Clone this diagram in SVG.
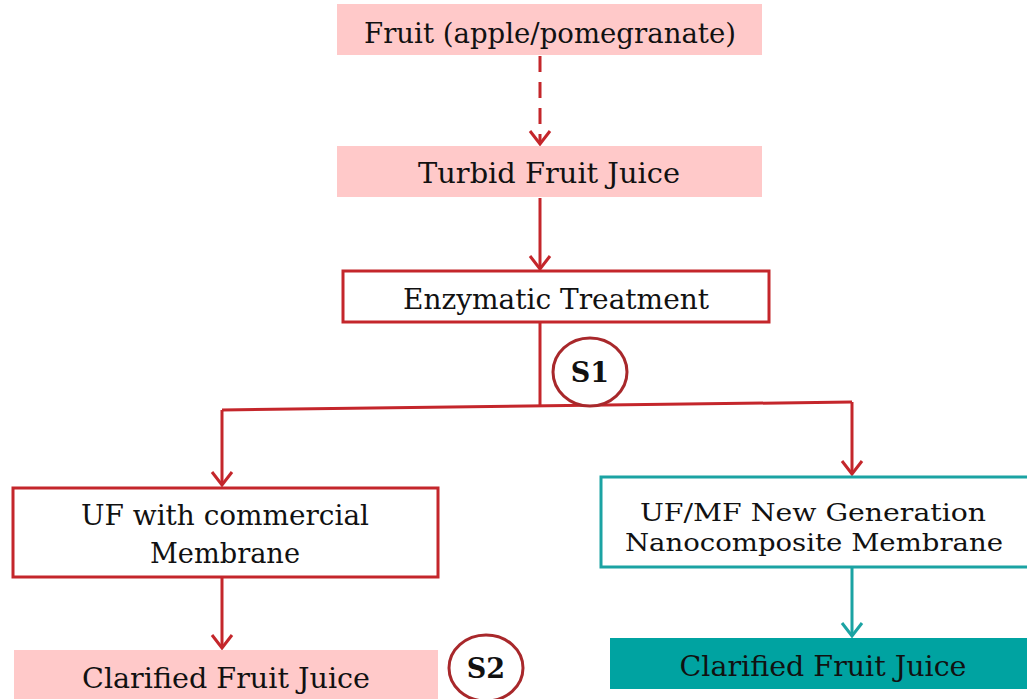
<svg xmlns="http://www.w3.org/2000/svg" width="1027" height="699" viewBox="0 0 1027 699">
  <style>
    .t { font-family: "DejaVu Serif", "Liberation Serif", serif; font-size: 28px; fill: #111; text-anchor: middle; }
    .t2 { font-family: "DejaVu Serif", "Liberation Serif", serif; font-size: 25px; fill: #111; text-anchor: middle; }
    .lbl { font-family: "DejaVu Serif", "Liberation Serif", serif; font-size: 27px; font-weight: bold; fill: #111; text-anchor: middle; }
    .pink { fill: #FFC9C9; stroke: none; }
    .redbox { fill: #fff; stroke: #C4262B; stroke-width: 3; }
    .tealbox { fill: #fff; stroke: #1BA3A3; stroke-width: 3; }
    .tealfill { fill: #00A3A1; stroke: none; }
    .red { fill: none; stroke: #C4262B; stroke-width: 3; }
    .teal { fill: none; stroke: #1BA3A3; stroke-width: 3; }
    .ring { fill: #fff; stroke: #A8282B; stroke-width: 3; }
  </style>
  <defs>
    <!-- open V arrowheads; tip sits on the end of the line -->
    <marker id="ahRed" markerWidth="16" markerHeight="24" refX="14" refY="11" orient="auto" markerUnits="userSpaceOnUse" viewBox="0 0 16 22">
      <path d="M1,1 L14,11 L1,21" fill="none" stroke="#C4262B" stroke-width="3"/>
    </marker>
    <marker id="ahTeal" markerWidth="16" markerHeight="24" refX="14" refY="11" orient="auto" markerUnits="userSpaceOnUse" viewBox="0 0 16 22">
      <path d="M1,1 L14,11 L1,21" fill="none" stroke="#1BA3A3" stroke-width="3"/>
    </marker>
  </defs>

  <g id="connectors">
    <path class="red" d="M540,56 V144" stroke-dasharray="16,10" marker-end="url(#ahRed)"/>
    <path class="red" d="M540,198 V269" marker-end="url(#ahRed)"/>
    <path class="red" d="M540,323 V406"/>
    <path class="red" d="M222,410 L852,402"/>
    <path class="red" d="M222,410 V485" marker-end="url(#ahRed)"/>
    <path class="red" d="M852,402 V474" marker-end="url(#ahRed)"/>
    <path class="red" d="M222,578 V648" marker-end="url(#ahRed)"/>
    <path class="teal" d="M852,568 V636" marker-end="url(#ahTeal)"/>
  </g>

  <g id="fruit">
    <rect class="pink" x="337" y="4" width="425" height="51"/>
    <text class="t" x="550" y="43" textLength="372" lengthAdjust="spacingAndGlyphs">Fruit (apple/pomegranate)</text>
  </g>

  <g id="turbid">
    <rect class="pink" x="337" y="146" width="425" height="51"/>
    <text class="t" x="549" y="183" textLength="262" lengthAdjust="spacingAndGlyphs">Turbid Fruit Juice</text>
  </g>

  <g id="enzymatic">
    <rect class="redbox" x="343" y="271" width="426" height="51"/>
    <text class="t" x="556" y="309" textLength="306" lengthAdjust="spacingAndGlyphs">Enzymatic Treatment</text>
  </g>

  <g id="s1">
    <ellipse class="ring" cx="590" cy="372" rx="37" ry="34"/>
    <text class="lbl" x="590" y="382">S1</text>
  </g>

  <g id="uf-commercial">
    <rect class="redbox" x="13" y="488" width="425" height="89"/>
    <text class="t" x="225" y="525" textLength="288" lengthAdjust="spacingAndGlyphs">UF with commercial</text>
    <text class="t" x="225" y="563" textLength="150" lengthAdjust="spacingAndGlyphs">Membrane</text>
  </g>

  <g id="clarified-left">
    <rect class="pink" x="14" y="650" width="424" height="52"/>
    <text class="t" x="226" y="688" textLength="288" lengthAdjust="spacingAndGlyphs">Clarified Fruit Juice</text>
  </g>

  <g id="s2">
    <ellipse class="ring" cx="486" cy="668" rx="37" ry="33"/>
    <text class="lbl" x="486" y="678">S2</text>
  </g>

  <g id="uf-nano">
    <rect class="tealbox" x="601" y="477" width="428" height="90"/>
    <text class="t2" x="813" y="521" textLength="346" lengthAdjust="spacingAndGlyphs">UF/MF New Generation</text>
    <text class="t2" x="814" y="551" textLength="378" lengthAdjust="spacingAndGlyphs">Nanocomposite Membrane</text>
  </g>

  <g id="clarified-right">
    <rect class="tealfill" x="610" y="638" width="420" height="51"/>
    <text class="t" x="823" y="676" textLength="287" lengthAdjust="spacingAndGlyphs">Clarified Fruit Juice</text>
  </g>
</svg>
